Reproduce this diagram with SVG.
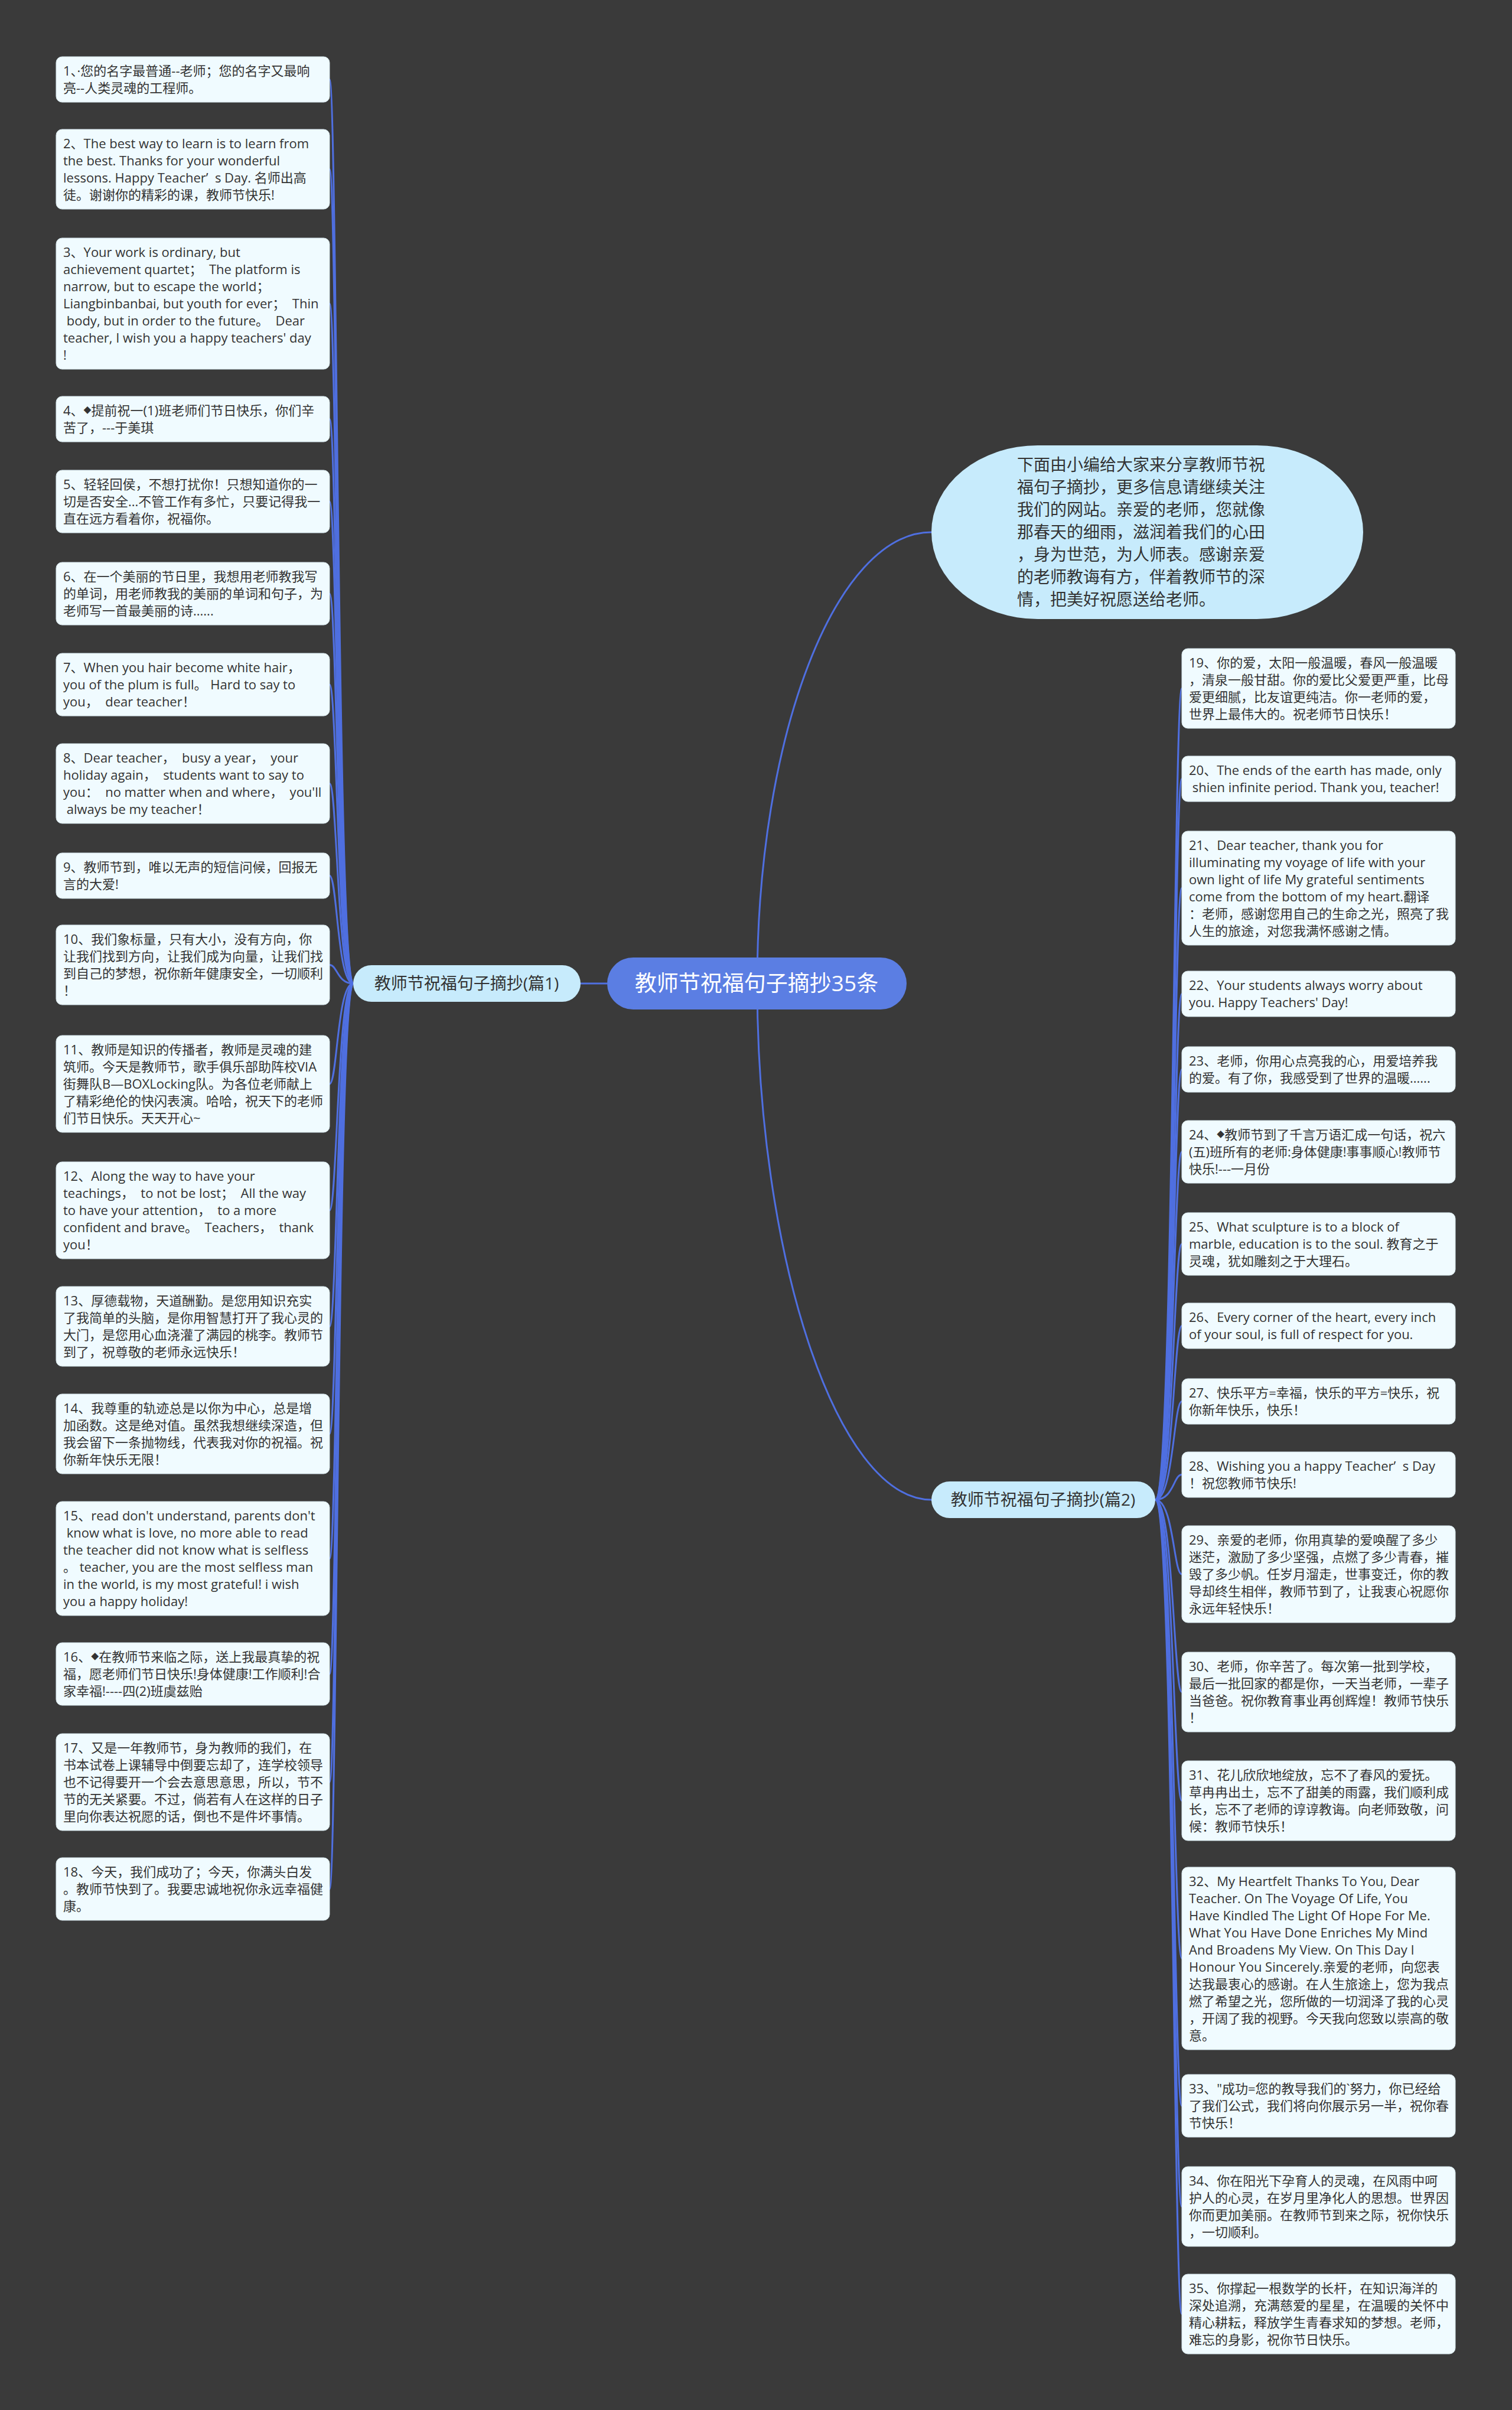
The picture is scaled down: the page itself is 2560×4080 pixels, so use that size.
<svg xmlns="http://www.w3.org/2000/svg" width="2560" height="4080" viewBox="0 0 2560 4080">
<style>
.bg{fill:#3a3a3a}
.leaf{fill:#f0fbff;stroke:#d3e3ea;stroke-width:1}
.lt{font-family:"Open Sans","Noto Sans CJK SC",sans-serif;font-size:22px;fill:#333}
.dm{font-size:13px}
.conn{fill:none;stroke:#4f6fe0;stroke-width:3}
.branch{fill:#c7ebfc}
.bt{font-family:"Open Sans","Noto Sans CJK SC",sans-serif;font-size:28px;fill:#333;text-anchor:middle}
.ct{font-family:"Open Sans","Noto Sans CJK SC",sans-serif;font-size:37px;fill:#fff;text-anchor:middle}
.pt{font-family:"Open Sans","Noto Sans CJK SC",sans-serif;font-size:28px;fill:#333}
</style>
<rect class="bg" x="0" y="0" width="2560" height="4080"/>
<g id="connectors">
<path class="conn" d="M1028,1665 L983,1665"/>
<path class="conn" d="M1282,1665 C1282,1245 1415,901 1577,901"/>
<path class="conn" d="M1282,1665 C1282,2120 1415,2539 1577,2539"/>
<path class="conn" d="M598,1665 C571,1665 571,134.5 558,134.5"/>
<path class="conn" d="M598,1665 C571,1665 571,286.5 558,286.5"/>
<path class="conn" d="M598,1665 C571,1665 571,514 558,514"/>
<path class="conn" d="M598,1665 C571,1665 571,709.5 558,709.5"/>
<path class="conn" d="M598,1665 C571,1665 571,849 558,849"/>
<path class="conn" d="M598,1665 C571,1665 571,1005 558,1005"/>
<path class="conn" d="M598,1665 C571,1665 571,1159 558,1159"/>
<path class="conn" d="M598,1665 C571,1665 571,1326.5 558,1326.5"/>
<path class="conn" d="M598,1665 C571,1665 571,1482.5 558,1482.5"/>
<path class="conn" d="M598,1665 C571,1665 571,1633.5 558,1633.5"/>
<path class="conn" d="M598,1665 C571,1665 571,1835 558,1835"/>
<path class="conn" d="M598,1665 C571,1665 571,2049 558,2049"/>
<path class="conn" d="M598,1665 C571,1665 571,2245.5 558,2245.5"/>
<path class="conn" d="M598,1665 C571,1665 571,2427.5 558,2427.5"/>
<path class="conn" d="M598,1665 C571,1665 571,2638.5 558,2638.5"/>
<path class="conn" d="M598,1665 C571,1665 571,2834 558,2834"/>
<path class="conn" d="M598,1665 C571,1665 571,3017 558,3017"/>
<path class="conn" d="M598,1665 C571,1665 571,3198 558,3198"/>
<path class="conn" d="M1956,2539 C1987,2539 1987,1165.5 2001,1165.5"/>
<path class="conn" d="M1956,2539 C1987,2539 1987,1318.5 2001,1318.5"/>
<path class="conn" d="M1956,2539 C1987,2539 1987,1503.5 2001,1503.5"/>
<path class="conn" d="M1956,2539 C1987,2539 1987,1682.5 2001,1682.5"/>
<path class="conn" d="M1956,2539 C1987,2539 1987,1810.5 2001,1810.5"/>
<path class="conn" d="M1956,2539 C1987,2539 1987,1950 2001,1950"/>
<path class="conn" d="M1956,2539 C1987,2539 1987,2106 2001,2106"/>
<path class="conn" d="M1956,2539 C1987,2539 1987,2244.5 2001,2244.5"/>
<path class="conn" d="M1956,2539 C1987,2539 1987,2372.5 2001,2372.5"/>
<path class="conn" d="M1956,2539 C1987,2539 1987,2496.5 2001,2496.5"/>
<path class="conn" d="M1956,2539 C1987,2539 1987,2665 2001,2665"/>
<path class="conn" d="M1956,2539 C1987,2539 1987,2864.5 2001,2864.5"/>
<path class="conn" d="M1956,2539 C1987,2539 1987,3048.5 2001,3048.5"/>
<path class="conn" d="M1956,2539 C1987,2539 1987,3315.5 2001,3315.5"/>
<path class="conn" d="M1956,2539 C1987,2539 1987,3565 2001,3565"/>
<path class="conn" d="M1956,2539 C1987,2539 1987,3735.5 2001,3735.5"/>
<path class="conn" d="M1956,2539 C1987,2539 1987,3917.5 2001,3917.5"/>
</g>
<g id="center"><rect x="1028" y="1621" width="507" height="88" rx="44" fill="#5b7ee3"/><text class="ct" x="1281" y="1678">教师节祝福句子摘抄35条</text></g>
<g id="branch1"><rect class="branch" x="598" y="1634" width="385" height="62" rx="31"/><text class="bt" x="790" y="1675">教师节祝福句子摘抄(篇1)</text></g>
<g id="branch2"><rect class="branch" x="1577" y="2508" width="379" height="62" rx="31"/><text class="bt" x="1766" y="2549">教师节祝福句子摘抄(篇2)</text></g>
<g id="intro"><rect class="branch" x="1577" y="754" width="731" height="294" rx="180" ry="147"/><text class="pt"><tspan x="1722" y="797">下面由小编给大家来分享教师节祝</tspan><tspan x="1722" y="835">福句子摘抄，更多信息请继续关注</tspan><tspan x="1722" y="873">我们的网站。亲爱的老师，您就像</tspan><tspan x="1722" y="911">那春天的细雨，滋润着我们的心田</tspan><tspan x="1722" y="949">，身为世范，为人师表。感谢亲爱</tspan><tspan x="1722" y="987">的老师教诲有方，伴着教师节的深</tspan><tspan x="1722" y="1025">情，把美好祝愿送给老师。</tspan></text></g>

<g id="n1"><rect class="leaf" x="95" y="96" width="463" height="77" rx="10"/><text class="lt" xml:space="preserve"><tspan x="107" y="128">1、·您的名字最普通--老师；您的名字又最响</tspan><tspan x="107" y="157">亮--人类灵魂的工程师。</tspan></text></g>
<g id="n2"><rect class="leaf" x="95" y="219" width="463" height="135" rx="10"/><text class="lt" xml:space="preserve"><tspan x="107" y="251">2、The best way to learn is to learn from</tspan><tspan x="107" y="280">the best. Thanks for your wonderful</tspan><tspan x="107" y="309">lessons. Happy Teacher’  s Day. 名师出高</tspan><tspan x="107" y="338">徒。谢谢你的精彩的课，教师节快乐!</tspan></text></g>
<g id="n3"><rect class="leaf" x="95" y="403" width="463" height="222" rx="10"/><text class="lt" xml:space="preserve"><tspan x="107" y="435">3、Your work is ordinary, but</tspan><tspan x="107" y="464">achievement quartet；  The platform is</tspan><tspan x="107" y="493">narrow, but to escape the world；</tspan><tspan x="107" y="522">Liangbinbanbai, but youth for ever；  Thin</tspan><tspan x="107" y="551"> body, but in order to the future。  Dear</tspan><tspan x="107" y="580">teacher, I wish you a happy teachers' day</tspan><tspan x="107" y="609">!</tspan></text></g>
<g id="n4"><rect class="leaf" x="95" y="671" width="463" height="77" rx="10"/><text class="lt" xml:space="preserve"><tspan x="107" y="703">4、</tspan><tspan class="dm" dy="-4">◆</tspan><tspan dy="4">提前祝一(1)班老师们节日快乐，你们辛</tspan><tspan x="107" y="732">苦了，---于美琪</tspan></text></g>
<g id="n5"><rect class="leaf" x="95" y="796" width="463" height="106" rx="10"/><text class="lt" xml:space="preserve"><tspan x="107" y="828">5、轻轻回侯，不想打扰你！只想知道你的一</tspan><tspan x="107" y="857">切是否安全...不管工作有多忙，只要记得我一</tspan><tspan x="107" y="886">直在远方看着你，祝福你。</tspan></text></g>
<g id="n6"><rect class="leaf" x="95" y="952" width="463" height="106" rx="10"/><text class="lt" xml:space="preserve"><tspan x="107" y="984">6、在一个美丽的节日里，我想用老师教我写</tspan><tspan x="107" y="1013">的单词，用老师教我的美丽的单词和句子，为</tspan><tspan x="107" y="1042">老师写一首最美丽的诗......</tspan></text></g>
<g id="n7"><rect class="leaf" x="95" y="1106" width="463" height="106" rx="10"/><text class="lt" xml:space="preserve"><tspan x="107" y="1138">7、When you hair become white hair，</tspan><tspan x="107" y="1167">you of the plum is full。 Hard to say to</tspan><tspan x="107" y="1196">you，  dear teacher！</tspan></text></g>
<g id="n8"><rect class="leaf" x="95" y="1259" width="463" height="135" rx="10"/><text class="lt" xml:space="preserve"><tspan x="107" y="1291">8、Dear teacher，  busy a year，  your</tspan><tspan x="107" y="1320">holiday again，  students want to say to</tspan><tspan x="107" y="1349">you：  no matter when and where，  you'll</tspan><tspan x="107" y="1378"> always be my teacher！</tspan></text></g>
<g id="n9"><rect class="leaf" x="95" y="1444" width="463" height="77" rx="10"/><text class="lt" xml:space="preserve"><tspan x="107" y="1476">9、教师节到，唯以无声的短信问候，回报无</tspan><tspan x="107" y="1505">言的大爱!</tspan></text></g>
<g id="n10"><rect class="leaf" x="95" y="1566" width="463" height="135" rx="10"/><text class="lt" xml:space="preserve"><tspan x="107" y="1598">10、我们象标量，只有大小，没有方向，你</tspan><tspan x="107" y="1627">让我们找到方向，让我们成为向量，让我们找</tspan><tspan x="107" y="1656">到自己的梦想，祝你新年健康安全，一切顺利</tspan><tspan x="107" y="1685">！</tspan></text></g>
<g id="n11"><rect class="leaf" x="95" y="1753" width="463" height="164" rx="10"/><text class="lt" xml:space="preserve"><tspan x="107" y="1785">11、教师是知识的传播者，教师是灵魂的建</tspan><tspan x="107" y="1814">筑师。今天是教师节，歌手俱乐部助阵校VIA</tspan><tspan x="107" y="1843">街舞队B—BOXLocking队。为各位老师献上</tspan><tspan x="107" y="1872">了精彩绝伦的快闪表演。哈哈，祝天下的老师</tspan><tspan x="107" y="1901">们节日快乐。天天开心~</tspan></text></g>
<g id="n12"><rect class="leaf" x="95" y="1967" width="463" height="164" rx="10"/><text class="lt" xml:space="preserve"><tspan x="107" y="1999">12、Along the way to have your</tspan><tspan x="107" y="2028">teachings，  to not be lost；  All the way</tspan><tspan x="107" y="2057">to have your attention，  to a more</tspan><tspan x="107" y="2086">confident and brave。  Teachers，  thank</tspan><tspan x="107" y="2115">you！</tspan></text></g>
<g id="n13"><rect class="leaf" x="95" y="2178" width="463" height="135" rx="10"/><text class="lt" xml:space="preserve"><tspan x="107" y="2210">13、厚德载物，天道酬勤。是您用知识充实</tspan><tspan x="107" y="2239">了我简单的头脑，是你用智慧打开了我心灵的</tspan><tspan x="107" y="2268">大门，是您用心血浇灌了满园的桃李。教师节</tspan><tspan x="107" y="2297">到了，祝尊敬的老师永远快乐！</tspan></text></g>
<g id="n14"><rect class="leaf" x="95" y="2360" width="463" height="135" rx="10"/><text class="lt" xml:space="preserve"><tspan x="107" y="2392">14、我尊重的轨迹总是以你为中心，总是增</tspan><tspan x="107" y="2421">加函数。这是绝对值。虽然我想继续深造，但</tspan><tspan x="107" y="2450">我会留下一条抛物线，代表我对你的祝福。祝</tspan><tspan x="107" y="2479">你新年快乐无限！</tspan></text></g>
<g id="n15"><rect class="leaf" x="95" y="2542" width="463" height="193" rx="10"/><text class="lt" xml:space="preserve"><tspan x="107" y="2574">15、read don't understand, parents don't</tspan><tspan x="107" y="2603"> know what is love, no more able to read</tspan><tspan x="107" y="2632">the teacher did not know what is selfless</tspan><tspan x="107" y="2661">。 teacher, you are the most selfless man</tspan><tspan x="107" y="2690">in the world, is my most grateful! i wish</tspan><tspan x="107" y="2719">you a happy holiday!</tspan></text></g>
<g id="n16"><rect class="leaf" x="95" y="2781" width="463" height="106" rx="10"/><text class="lt" xml:space="preserve"><tspan x="107" y="2813">16、</tspan><tspan class="dm" dy="-4">◆</tspan><tspan dy="4">在教师节来临之际，送上我最真挚的祝</tspan><tspan x="107" y="2842">福，愿老师们节日快乐!身体健康!工作顺利!合</tspan><tspan x="107" y="2871">家幸福!----四(2)班虞兹贻</tspan></text></g>
<g id="n17"><rect class="leaf" x="95" y="2935" width="463" height="164" rx="10"/><text class="lt" xml:space="preserve"><tspan x="107" y="2967">17、又是一年教师节，身为教师的我们，在</tspan><tspan x="107" y="2996">书本试卷上课辅导中倒要忘却了，连学校领导</tspan><tspan x="107" y="3025">也不记得要开一个会去意思意思，所以，节不</tspan><tspan x="107" y="3054">节的无关紧要。不过，倘若有人在这样的日子</tspan><tspan x="107" y="3083">里向你表达祝愿的话，倒也不是件坏事情。</tspan></text></g>
<g id="n18"><rect class="leaf" x="95" y="3145" width="463" height="106" rx="10"/><text class="lt" xml:space="preserve"><tspan x="107" y="3177">18、今天，我们成功了；今天，你满头白发</tspan><tspan x="107" y="3206">。教师节快到了。我要忠诚地祝你永远幸福健</tspan><tspan x="107" y="3235">康。</tspan></text></g>

<g id="n19"><rect class="leaf" x="2001" y="1098" width="463" height="135" rx="10"/><text class="lt" xml:space="preserve"><tspan x="2013" y="1130">19、你的爱，太阳一般温暖，春风一般温暖</tspan><tspan x="2013" y="1159">，清泉一般甘甜。你的爱比父爱更严重，比母</tspan><tspan x="2013" y="1188">爱更细腻，比友谊更纯洁。你一老师的爱，</tspan><tspan x="2013" y="1217">世界上最伟大的。祝老师节日快乐！</tspan></text></g>
<g id="n20"><rect class="leaf" x="2001" y="1280" width="463" height="77" rx="10"/><text class="lt" xml:space="preserve"><tspan x="2013" y="1312">20、The ends of the earth has made, only</tspan><tspan x="2013" y="1341"> shien infinite period. Thank you, teacher!</tspan></text></g>
<g id="n21"><rect class="leaf" x="2001" y="1407" width="463" height="193" rx="10"/><text class="lt" xml:space="preserve"><tspan x="2013" y="1439">21、Dear teacher, thank you for</tspan><tspan x="2013" y="1468">illuminating my voyage of life with your</tspan><tspan x="2013" y="1497">own light of life My grateful sentiments</tspan><tspan x="2013" y="1526">come from the bottom of my heart.翻译</tspan><tspan x="2013" y="1555">：老师，感谢您用自己的生命之光，照亮了我</tspan><tspan x="2013" y="1584">人生的旅途，对您我满怀感谢之情。</tspan></text></g>
<g id="n22"><rect class="leaf" x="2001" y="1644" width="463" height="77" rx="10"/><text class="lt" xml:space="preserve"><tspan x="2013" y="1676">22、Your students always worry about</tspan><tspan x="2013" y="1705">you. Happy Teachers' Day!</tspan></text></g>
<g id="n23"><rect class="leaf" x="2001" y="1772" width="463" height="77" rx="10"/><text class="lt" xml:space="preserve"><tspan x="2013" y="1804">23、老师，你用心点亮我的心，用爱培养我</tspan><tspan x="2013" y="1833">的爱。有了你，我感受到了世界的温暖......</tspan></text></g>
<g id="n24"><rect class="leaf" x="2001" y="1897" width="463" height="106" rx="10"/><text class="lt" xml:space="preserve"><tspan x="2013" y="1929">24、</tspan><tspan class="dm" dy="-4">◆</tspan><tspan dy="4">教师节到了千言万语汇成一句话，祝六</tspan><tspan x="2013" y="1958">(五)班所有的老师:身体健康!事事顺心!教师节</tspan><tspan x="2013" y="1987">快乐!---一月份</tspan></text></g>
<g id="n25"><rect class="leaf" x="2001" y="2053" width="463" height="106" rx="10"/><text class="lt" xml:space="preserve"><tspan x="2013" y="2085">25、What sculpture is to a block of</tspan><tspan x="2013" y="2114">marble, education is to the soul. 教育之于</tspan><tspan x="2013" y="2143">灵魂，犹如雕刻之于大理石。</tspan></text></g>
<g id="n26"><rect class="leaf" x="2001" y="2206" width="463" height="77" rx="10"/><text class="lt" xml:space="preserve"><tspan x="2013" y="2238">26、Every corner of the heart, every inch</tspan><tspan x="2013" y="2267">of your soul, is full of respect for you.</tspan></text></g>
<g id="n27"><rect class="leaf" x="2001" y="2334" width="463" height="77" rx="10"/><text class="lt" xml:space="preserve"><tspan x="2013" y="2366">27、快乐平方=幸福，快乐的平方=快乐，祝</tspan><tspan x="2013" y="2395">你新年快乐，快乐！</tspan></text></g>
<g id="n28"><rect class="leaf" x="2001" y="2458" width="463" height="77" rx="10"/><text class="lt" xml:space="preserve"><tspan x="2013" y="2490">28、Wishing you a happy Teacher’  s Day</tspan><tspan x="2013" y="2519">！祝您教师节快乐!</tspan></text></g>
<g id="n29"><rect class="leaf" x="2001" y="2583" width="463" height="164" rx="10"/><text class="lt" xml:space="preserve"><tspan x="2013" y="2615">29、亲爱的老师，你用真挚的爱唤醒了多少</tspan><tspan x="2013" y="2644">迷茫，激励了多少坚强，点燃了多少青春，摧</tspan><tspan x="2013" y="2673">毁了多少帆。任岁月溜走，世事变迁，你的教</tspan><tspan x="2013" y="2702">导却终生相伴，教师节到了，让我衷心祝愿你</tspan><tspan x="2013" y="2731">永远年轻快乐！</tspan></text></g>
<g id="n30"><rect class="leaf" x="2001" y="2797" width="463" height="135" rx="10"/><text class="lt" xml:space="preserve"><tspan x="2013" y="2829">30、老师，你辛苦了。每次第一批到学校，</tspan><tspan x="2013" y="2858">最后一批回家的都是你，一天当老师，一辈子</tspan><tspan x="2013" y="2887">当爸爸。祝你教育事业再创辉煌！教师节快乐</tspan><tspan x="2013" y="2916">！</tspan></text></g>
<g id="n31"><rect class="leaf" x="2001" y="2981" width="463" height="135" rx="10"/><text class="lt" xml:space="preserve"><tspan x="2013" y="3013">31、花儿欣欣地绽放，忘不了春风的爱抚。</tspan><tspan x="2013" y="3042">草冉冉出土，忘不了甜美的雨露，我们顺利成</tspan><tspan x="2013" y="3071">长，忘不了老师的谆谆教诲。向老师致敬，问</tspan><tspan x="2013" y="3100">候：教师节快乐！</tspan></text></g>
<g id="n32"><rect class="leaf" x="2001" y="3161" width="463" height="309" rx="10"/><text class="lt" xml:space="preserve"><tspan x="2013" y="3193">32、My Heartfelt Thanks To You, Dear</tspan><tspan x="2013" y="3222">Teacher. On The Voyage Of Life, You</tspan><tspan x="2013" y="3251">Have Kindled The Light Of Hope For Me.</tspan><tspan x="2013" y="3280">What You Have Done Enriches My Mind</tspan><tspan x="2013" y="3309">And Broadens My View. On This Day I</tspan><tspan x="2013" y="3338">Honour You Sincerely.亲爱的老师，向您表</tspan><tspan x="2013" y="3367">达我最衷心的感谢。在人生旅途上，您为我点</tspan><tspan x="2013" y="3396">燃了希望之光，您所做的一切润泽了我的心灵</tspan><tspan x="2013" y="3425">，开阔了我的视野。今天我向您致以崇高的敬</tspan><tspan x="2013" y="3454">意。</tspan></text></g>
<g id="n33"><rect class="leaf" x="2001" y="3512" width="463" height="106" rx="10"/><text class="lt" xml:space="preserve"><tspan x="2013" y="3544">33、"成功=您的教导我们的`努力，你已经给</tspan><tspan x="2013" y="3573">了我们公式，我们将向你展示另一半，祝你春</tspan><tspan x="2013" y="3602">节快乐！</tspan></text></g>
<g id="n34"><rect class="leaf" x="2001" y="3668" width="463" height="135" rx="10"/><text class="lt" xml:space="preserve"><tspan x="2013" y="3700">34、你在阳光下孕育人的灵魂，在风雨中呵</tspan><tspan x="2013" y="3729">护人的心灵，在岁月里净化人的思想。世界因</tspan><tspan x="2013" y="3758">你而更加美丽。在教师节到来之际，祝你快乐</tspan><tspan x="2013" y="3787">，一切顺利。</tspan></text></g>
<g id="n35"><rect class="leaf" x="2001" y="3850" width="463" height="135" rx="10"/><text class="lt" xml:space="preserve"><tspan x="2013" y="3882">35、你撑起一根数学的长杆，在知识海洋的</tspan><tspan x="2013" y="3911">深处追溯，充满慈爱的星星，在温暖的关怀中</tspan><tspan x="2013" y="3940">精心耕耘，释放学生青春求知的梦想。老师，</tspan><tspan x="2013" y="3969">难忘的身影，祝你节日快乐。</tspan></text></g>
</svg>
